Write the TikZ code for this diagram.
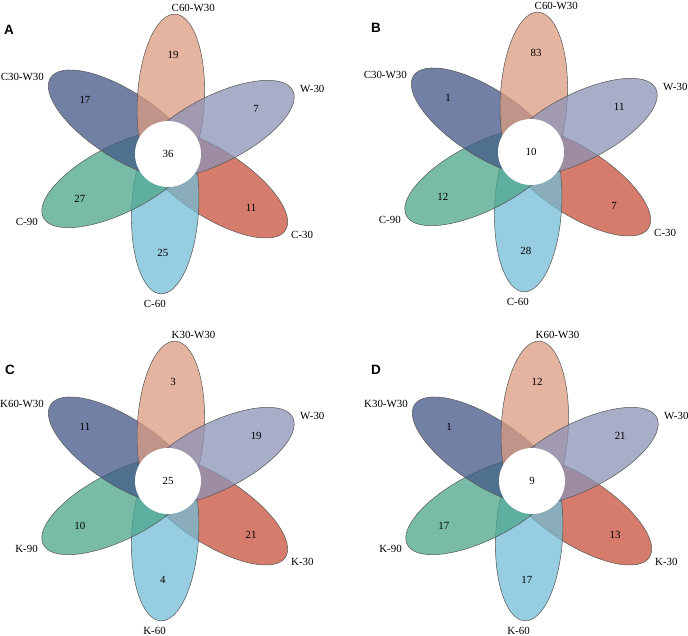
\documentclass[tikz,border=0pt]{standalone}
\usepackage{fontspec}
\setmainfont{Liberation Serif}
\newfontfamily\arialfont{Liberation Sans}
\usepackage{tikz}
\definecolor{crojo}{HTML}{C7503B}
\definecolor{cceleste}{HTML}{73BCD6}
\definecolor{cverde}{HTML}{4BA68B}
\definecolor{cazul}{HTML}{435688}
\definecolor{csalmon}{HTML}{DB9B80}
\definecolor{clila}{HTML}{8B92B6}
\tikzset{
  petalo/.style={draw=black!65, line width=0.45pt, fill opacity=0.75},
  numero/.style={font=\fontsize{9.3}{11}\selectfont, inner sep=0pt},
  etq/.style={font=\fontsize{9.3}{11}\selectfont, inner sep=0pt},
  letra/.style={font=\arialfont\bfseries\fontsize{11.5}{13}\selectfont, inner sep=0pt},
}
% #1 centro, #2 letra, #3 pos. letra, #4 nucleo, #5 etiquetas/valores
\newcommand{\flor}[5]{%
  \node[letra] (p#2) at #3 {#2};
  \begin{scope}[shift={#1}]
    \foreach \ang/\col in {-30/crojo,-90/cceleste,-150/cverde,150/cazul,90/csalmon,30/clila}
      \filldraw[petalo, fill=\col, rotate=\ang-3] (54,0) ellipse [x radius=86, y radius=33.5];
    \fill[white] (0,0) circle [radius=33];
    \node[numero] (#2c) at (0,0) {#4};
    \coordinate (#2e1) at (3.5,146);
    \coordinate (#2e2) at (132,65);
    \coordinate (#2e3) at (123,-81);
    \coordinate (#2e4) at (-2,-150);
    \coordinate (#2e5) at (-130,-67.5);
    \coordinate (#2e6) at (-124,77.5);
    \foreach \txt/\val [count=\i] in {#5} {
      \node[numero] (#2v\i) at ({147-60*\i}:99) {\val};
      \ifnum\i<4 \def\anc{west}\else\def\anc{east}\fi
      \node[etq, anchor=\anc] (#2l\i) at (#2e\i) {\txt};
    }
  \end{scope}
}

\begin{document}
\begin{tikzpicture}[x=0.03cm, y=0.03cm]
  \useasboundingbox (0,0) rectangle (688,636);
  \flor{(168,482)}{A}{(9,606.5)}{36}{C60-W30/19, W-30/7, C-30/11, C-60/25, C-90/27, C30-W30/17}
  \flor{(531,484)}{B}{(376,608)}{10}{C60-W30/83, W-30/11, C-30/7, C-60/28, C-90/12, C30-W30/1}
  \flor{(168,155)}{C}{(10,266)}{25}{K30-W30/3, W-30/19, K-30/21, K-60/4, K-90/10, K60-W30/11}
  \flor{(532,155)}{D}{(376,266)}{9}{K60-W30/12, W-30/21, K-30/13, K-60/17, K-90/17, K30-W30/1}
\end{tikzpicture}
\end{document}
